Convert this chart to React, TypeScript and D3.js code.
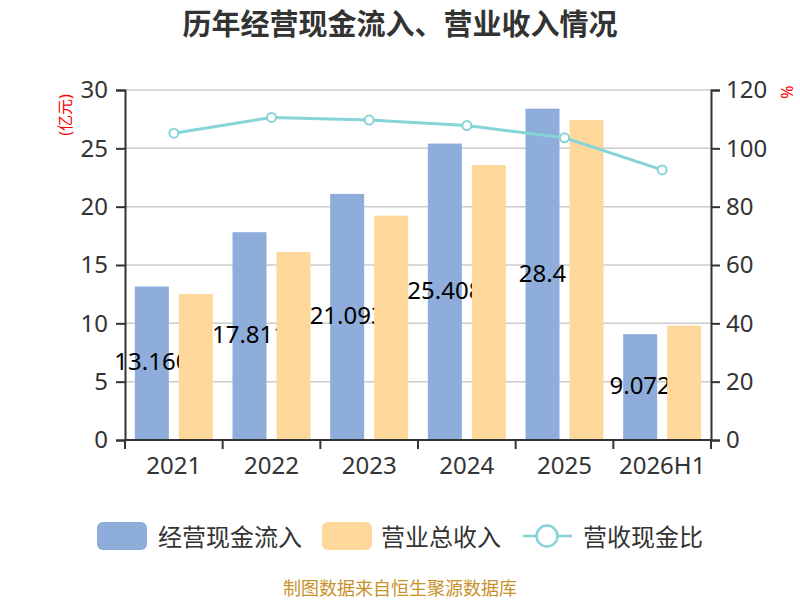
import React, { useEffect, useRef } from 'react';
import * as d3 from 'd3';

const years = ['2021', '2022', '2023', '2024', '2025', '2026H1'];
const cashInflow = [13.16, 17.811, 21.093, 25.408, 28.4, 9.072];
const cashLabels = ['13.160', '17.811', '21.093', '25.408', '28.4', '9.072'];
const revenue = [12.51, 16.11, 19.23, 23.57, 27.42, 9.8];
const cashRatio = [105.2, 110.6, 109.7, 107.8, 103.6, 92.6];
const leftTicks = [0, 5, 10, 15, 20, 25, 30];
const rightTicks = [0, 20, 40, 60, 80, 100, 120];

const WIDTH = 800;
const HEIGHT = 600;
const FONT = '"Noto Sans", "Noto Sans CJK SC", sans-serif';
const BLUE = '#8eaddb';
const ORANGE = '#fed89b';
const TEAL = '#86d4d7';
const AXIS = '#333333';

const CashFlowChart: React.FC = () => {
  const svgRef = useRef<SVGSVGElement>(null);

  useEffect(() => {
    if (!svgRef.current) return;
    const svg = d3.select(svgRef.current);
    svg.selectAll('*').remove();

    const left = 125;
    const right = 711;
    const top = 90;
    const bottom = 440;

    const x = d3.scaleBand<string>().domain(years).range([left, right]).padding(0);
    const x1 = d3.scaleBand<string>()
      .domain(['cash', 'rev'])
      .range([0, x.bandwidth()])
      .paddingInner(0.227)
      .paddingOuter(0.2235);
    const yL = d3.scaleLinear().domain([0, 30]).range([bottom, top]);
    const yR = d3.scaleLinear().domain([0, 120]).range([bottom, top]);

    const g = svg.append('g').attr('font-family', FONT);

    // title
    g.append('text')
      .attr('x', WIDTH / 2)
      .attr('y', 23)
      .attr('text-anchor', 'middle')
      .attr('dominant-baseline', 'central')
      .attr('font-size', '29px')
      .attr('font-weight', 'bold')
      .attr('fill', '#333')
      .text('历年经营现金流入、营业收入情况');

    // grid lines
    g.append('g')
      .selectAll('line')
      .data(leftTicks.slice(1))
      .enter()
      .append('line')
      .attr('x1', left)
      .attr('x2', right)
      .attr('y1', d => yL(d))
      .attr('y2', d => yL(d))
      .attr('stroke', '#cccccc')
      .attr('stroke-width', 1.5);

    // left axis
    const yAxisL = d3.axisLeft(yL).tickValues(leftTicks).tickSize(9).tickPadding(8);
    const gl = g.append('g').attr('transform', `translate(${left},0)`).call(yAxisL);
    gl.select('.domain').attr('stroke', AXIS).attr('stroke-width', 2);
    gl.selectAll('.tick line').attr('stroke', AXIS).attr('stroke-width', 2);
    gl.selectAll('.tick text')
      .attr('font-family', FONT)
      .attr('font-size', '24px')
      .attr('fill', AXIS);

    // right axis
    const yAxisR = d3.axisRight(yR).tickValues(rightTicks).tickSize(9).tickPadding(6);
    const gr = g.append('g').attr('transform', `translate(${right},0)`).call(yAxisR);
    gr.select('.domain').attr('stroke', AXIS).attr('stroke-width', 2);
    gr.selectAll('.tick line').attr('stroke', AXIS).attr('stroke-width', 2);
    gr.selectAll('.tick text')
      .attr('font-family', FONT)
      .attr('font-size', '24px')
      .attr('fill', AXIS);

    // axis names
    g.append('text')
      .attr('transform', `translate(65,${115}) rotate(-90)`)
      .attr('text-anchor', 'middle')
      .attr('dominant-baseline', 'central')
      .attr('font-size', '16px')
      .attr('fill', '#ff0000')
      .text('(亿元)');
    g.append('text')
      .attr('transform', `translate(787,${92}) rotate(-90)`)
      .attr('text-anchor', 'middle')
      .attr('dominant-baseline', 'central')
      .attr('font-size', '16px')
      .attr('fill', '#ff0000')
      .text('%');

    // cash inflow bars
    g.append('g')
      .selectAll('rect')
      .data(cashInflow)
      .enter()
      .append('rect')
      .attr('x', (d, i) => (x(years[i]) as number) + (x1('cash') as number))
      .attr('y', d => yL(d))
      .attr('width', x1.bandwidth())
      .attr('height', d => bottom - yL(d))
      .attr('fill', BLUE);

    // labels sit between the two series, revenue bars cover them
    g.append('g')
      .selectAll('text')
      .data(cashInflow)
      .enter()
      .append('text')
      .attr('x', (d, i) => (x(years[i]) as number) + (x1('cash') as number) + x1.bandwidth() / 2)
      .attr('y', d => (yL(d) + bottom) / 2)
      .attr('dy', '0.3em')
      .attr('text-anchor', 'middle')
      .attr('font-size', '24px')
      .attr('fill', '#000')
      .text((d, i) => cashLabels[i]);

    // revenue bars
    g.append('g')
      .selectAll('rect')
      .data(revenue)
      .enter()
      .append('rect')
      .attr('x', (d, i) => (x(years[i]) as number) + (x1('rev') as number))
      .attr('y', d => yL(d))
      .attr('width', x1.bandwidth())
      .attr('height', d => bottom - yL(d))
      .attr('fill', ORANGE);

    // x axis
    g.append('line')
      .attr('x1', left)
      .attr('x2', right)
      .attr('y1', bottom)
      .attr('y2', bottom)
      .attr('stroke', AXIS)
      .attr('stroke-width', 2);
    const boundaries = years.map(y => x(y) as number).concat([right]);
    g.append('g')
      .selectAll('line')
      .data(boundaries)
      .enter()
      .append('line')
      .attr('x1', d => d)
      .attr('x2', d => d)
      .attr('y1', bottom)
      .attr('y2', bottom + 9)
      .attr('stroke', AXIS)
      .attr('stroke-width', 2);
    g.append('g')
      .selectAll('text')
      .data(years)
      .enter()
      .append('text')
      .attr('x', d => (x(d) as number) + x.bandwidth() / 2)
      .attr('y', 474)
      .attr('text-anchor', 'middle')
      .attr('font-size', '24px')
      .attr('fill', AXIS)
      .text(d => d);

    // ratio line
    const line = d3.line<number>()
      .x((d, i) => (x(years[i]) as number) + x.bandwidth() / 2)
      .y(d => yR(d));
    g.append('path')
      .datum(cashRatio)
      .attr('d', line)
      .attr('fill', 'none')
      .attr('stroke', TEAL)
      .attr('stroke-width', 3);
    g.append('g')
      .selectAll('circle')
      .data(cashRatio)
      .enter()
      .append('circle')
      .attr('cx', (d, i) => (x(years[i]) as number) + x.bandwidth() / 2)
      .attr('cy', d => yR(d))
      .attr('r', 4.5)
      .attr('fill', '#fff')
      .attr('stroke', TEAL)
      .attr('stroke-width', 2);

    // legend
    const legendY = 536;
    const lg = g.append('g');
    lg.append('rect').attr('x', 97).attr('y', legendY - 14).attr('width', 50).attr('height', 28).attr('rx', 6).attr('fill', BLUE);
    lg.append('text').attr('x', 158).attr('y', legendY).attr('dominant-baseline', 'central')
      .attr('font-size', '24px').attr('fill', AXIS).text('经营现金流入');
    lg.append('rect').attr('x', 322).attr('y', legendY - 14).attr('width', 50).attr('height', 28).attr('rx', 6).attr('fill', ORANGE);
    lg.append('text').attr('x', 381).attr('y', legendY).attr('dominant-baseline', 'central')
      .attr('font-size', '24px').attr('fill', AXIS).text('营业总收入');
    lg.append('line').attr('x1', 523).attr('x2', 572).attr('y1', legendY).attr('y2', legendY)
      .attr('stroke', TEAL).attr('stroke-width', 2.5);
    lg.append('circle').attr('cx', 547).attr('cy', legendY).attr('r', 10.5)
      .attr('fill', '#fff').attr('stroke', TEAL).attr('stroke-width', 2.5);
    lg.append('text').attr('x', 583).attr('y', legendY).attr('dominant-baseline', 'central')
      .attr('font-size', '24px').attr('fill', AXIS).text('营收现金比');

    // source note
    g.append('text')
      .attr('x', WIDTH / 2)
      .attr('y', 588)
      .attr('text-anchor', 'middle')
      .attr('dominant-baseline', 'central')
      .attr('font-size', '18px')
      .attr('fill', '#c8922a')
      .text('制图数据来自恒生聚源数据库');
  }, []);

  return (
    <svg
      ref={svgRef}
      width={WIDTH}
      height={HEIGHT}
      style={{ display: 'block', position: 'absolute', left: 0, top: 0, background: '#fff' }}
    />
  );
};

export default function App() {
  return <CashFlowChart />;
}
